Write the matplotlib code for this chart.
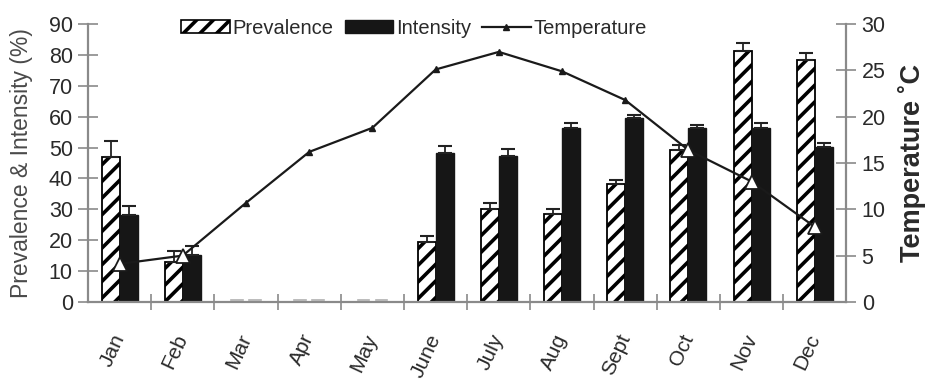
import matplotlib
matplotlib.use("Agg")
import matplotlib.pyplot as plt
import numpy as np
from matplotlib.lines import Line2D
from matplotlib.patches import Patch

plt.rcParams['font.family'] = ['Liberation Sans', 'DejaVu Sans']
plt.rcParams['hatch.linewidth'] = 2.6

months = ["Jan", "Feb", "Mar", "Apr", "May", "June", "July", "Aug", "Sept", "Oct", "Nov", "Dec"]
prevalence = [47, 13, 0, 0, 0, 19.5, 30, 28.5, 38.2, 49.2, 81.2, 78.3]
prevalence_err = [5, 3.5, 0, 0, 0, 1.9, 2, 1.5, 1.3, 1.6, 2.8, 2.3]
intensity = [28.2, 15.2, 0, 0, 0, 48.2, 47.2, 56.3, 59.5, 56.3, 56.3, 50.2]
intensity_err = [2.8, 2.8, 0, 0, 0, 2.3, 2.3, 1.7, 1.0, 1.0, 1.7, 1.3]
temperature = [4.1, 5.0, 10.7, 16.2, 18.8, 25.1, 27.0, 24.9, 21.8, 16.4, 13.0, 8.1]

x = np.arange(len(months))
w = 0.285
grey = "#8a8a8a"
txt = "#2a2a2a"

fig = plt.figure(figsize=(9.27, 3.89), dpi=100)
ax = fig.add_axes([0.095, 0.224, 0.818, 0.714])

prev = np.array(prevalence)
inten = np.array(intensity)
has_bar = prev > 0

ax.bar(x - w / 2, prev, w, color="white", edgecolor="black", hatch="//",
       linewidth=1.3, zorder=2)
ax.bar(x + w / 2, inten, w, color="#161616", edgecolor="#161616", linewidth=1.0, zorder=2)
ax.errorbar((x - w / 2)[has_bar], prev[has_bar],
            yerr=[np.zeros(has_bar.sum()), np.array(prevalence_err)[has_bar]],
            fmt="none", ecolor="#222222", elinewidth=1.3, capsize=5, capthick=1.5, zorder=3)
ax.errorbar((x + w / 2)[has_bar], inten[has_bar],
            yerr=[np.zeros(has_bar.sum()), np.array(intensity_err)[has_bar]],
            fmt="none", ecolor="#222222", elinewidth=1.3, capsize=5, capthick=1.5, zorder=3)

# faint dashes where the monthly values are zero
for xi in x[~has_bar]:
    ax.plot([xi - w + 0.05, xi - 0.05], [0.6, 0.6], color="#b0b0b0", lw=1.2, zorder=2)
    ax.plot([xi + 0.05, xi + w - 0.05], [0.6, 0.6], color="#b0b0b0", lw=1.2, zorder=2)

ax.set_xlim(-0.5, 11.5)
ax.set_ylim(0, 90)
ax.set_yticks(np.arange(0, 91, 10))
ax.set_xticks(x)
ax.set_xticklabels(months, rotation=65, ha="right", va="center", rotation_mode="anchor",
                   fontsize=15, color=txt)
ax.set_xticks(np.arange(0.5, 11.5, 1), minor=True)
ax.tick_params(axis="x", which="major", length=0, pad=24)
ax.tick_params(axis="x", which="minor", direction="inout", length=12, width=1.2, color=grey)
ax.tick_params(axis="y", direction="inout", length=14, width=1.2, color=grey,
               labelsize=15.5, labelcolor=txt, pad=4)
for s in ["top", "right"]:
    ax.spines[s].set_visible(False)
for s in ["left", "bottom"]:
    ax.spines[s].set_color(grey)
    ax.spines[s].set_linewidth(1.6)
ax.set_ylabel("Prevalence & Intensity (%)", fontsize=16.5, color="#4a4a4a", labelpad=11)

ax2 = ax.twinx()
ax2.set_ylim(0, 30)
ax2.set_yticks(np.arange(0, 31, 5))
t = np.array(temperature)
ax2.plot(x, t, color="#1a1a1a", lw=1.6, zorder=4)
# points that sit in front of a bar are drawn as open triangles
inside = t * 3 < np.maximum(prev, inten)
ax2.plot(x[~inside], t[~inside], ls="none", marker="^", ms=5, color="#1a1a1a", zorder=5)
ax2.plot(x[inside], t[inside], ls="none", marker="^", ms=10, mfc="white",
         mec="#1a1a1a", mew=1.3, zorder=5)
for s in ["top", "left", "bottom"]:
    ax2.spines[s].set_visible(False)
ax2.spines["right"].set_color(grey)
ax2.spines["right"].set_linewidth(1.6)
ax2.tick_params(axis="y", direction="inout", length=14, width=1.2, color=grey,
                labelsize=15.5, labelcolor=txt, pad=4)
ax2.set_ylabel("Temperature ˚C", fontsize=19.5, fontweight="bold", color=txt, labelpad=9)

handles = [
    Patch(facecolor="white", edgecolor="black", hatch="//", linewidth=1.2, label="Prevalence"),
    Patch(facecolor="#161616", edgecolor="#161616", label="Intensity"),
    Line2D([0], [0], color="#1a1a1a", lw=1.6, marker="^", ms=5, label="Temperature"),
]
ax.legend(handles=handles, loc="center", bbox_to_anchor=(0.43, 0.985), ncol=3,
          frameon=False, fontsize=14.5, handlelength=2.4, handleheight=0.65,
          handletextpad=0.15, columnspacing=0.55, labelcolor=txt, borderpad=0)

fig.savefig("out.png", dpi=100)
